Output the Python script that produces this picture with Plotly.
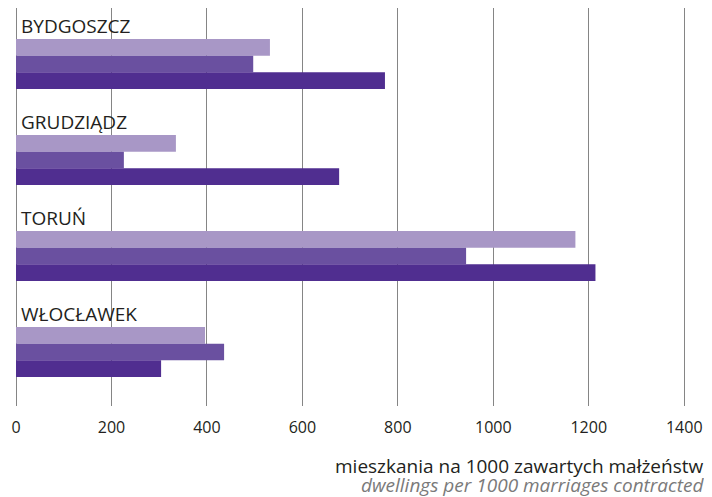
import plotly.graph_objects as go

cities = ["BYDGOSZCZ", "GRUDZIĄDZ", "TORUŃ", "WŁOCŁAWEK"]
series_names = ["seria 1", "seria 2", "seria 3"]
values_1 = [532, 335, 1172, 396]
values_2 = [497, 226, 943, 436]
values_3 = [773, 677, 1214, 304]
x_ticks = [0, 200, 400, 600, 800, 1000, 1200, 1400]

colors = ["#A897C6", "#6A50A0", "#502E90"]
FONT = "Open Sans"
TEXT = "#231F20"

fig = go.Figure()
for name, vals, col in zip(series_names, [values_1, values_2, values_3], colors):
    fig.add_trace(go.Bar(
        x=vals, y=cities, orientation="h", name=name,
        marker=dict(color=col, line=dict(width=0)),
    ))

# city labels above each group of bars
for c in cities:
    fig.add_annotation(
        x=0, y=c, xref="x", yref="y", text=c, showarrow=False,
        xanchor="left", yanchor="middle", xshift=3, yshift=38,
        font=dict(family=FONT, size=19, color=TEXT),
    )

# two-line axis title, right aligned under the plot
fig.add_annotation(
    x=1, y=0, xref="paper", yref="paper", xshift=17, yshift=-60,
    text="mieszkania na 1000 zawartych małżeństw", showarrow=False,
    xanchor="right", yanchor="middle",
    font=dict(family=FONT, size=19, color=TEXT),
)
fig.add_annotation(
    x=1, y=0, xref="paper", yref="paper", xshift=17, yshift=-79,
    text="<i>dwellings per 1000 marriages contracted</i>", showarrow=False,
    xanchor="right", yanchor="middle",
    font=dict(family=FONT, size=19, color="#7A7A7A"),
)

fig.update_layout(
    width=704, height=489,
    margin=dict(l=8, r=23, t=0, b=91),
    barmode="group", bargap=0.48, bargroupgap=0,
    showlegend=False,
    plot_bgcolor="white", paper_bgcolor="white",
    font=dict(family=FONT, size=16, color=TEXT),
    xaxis=dict(
        range=[0, 1410], tickvals=x_ticks,
        showgrid=True, gridcolor="#858585", gridwidth=1.3,
        zeroline=True, zerolinecolor="#858585", zerolinewidth=1.3,
        showline=False, ticks="", ticklabelstandoff=10,
        tickfont=dict(family=FONT, size=16, color=TEXT),
    ),
    yaxis=dict(
        categoryorder="array", categoryarray=cities,
        range=[3.5625, -0.5833], showticklabels=False, showgrid=False,
        zeroline=False, ticks="",
    ),
)

fig.write_html("out.html")
